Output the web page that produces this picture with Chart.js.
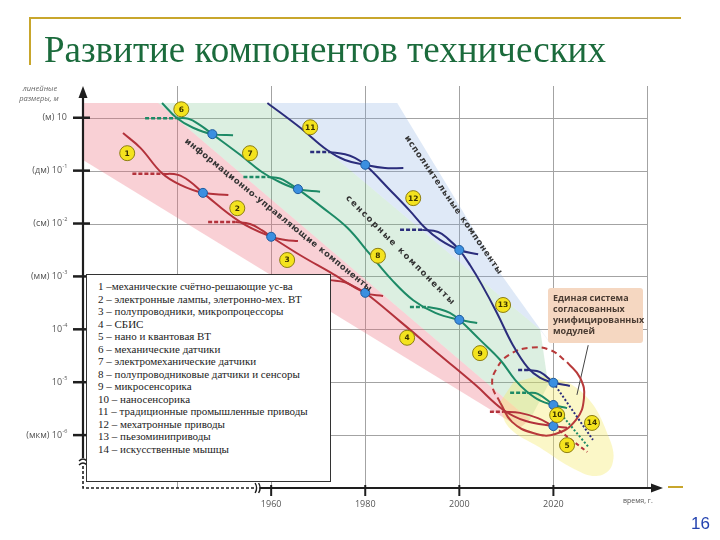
<!DOCTYPE html>
<html lang="ru">
<head>
<meta charset="UTF-8">
<title>Развитие компонентов технических</title>
<script src="https://cdn.jsdelivr.net/npm/chart.js@4.4.1/dist/chart.umd.min.js"></script>
<style>
  body { margin: 0; background: #fff; }
  #slide { position: relative; width: 720px; height: 540px; overflow: hidden; }
  #chart { position: absolute; left: 0; top: 0; }
  .rule { position: absolute; background: #c8a62c; }
  h1 { position: absolute; left: 44px; top: 31px; margin: 0; font: normal 37px/37px "Liberation Serif", serif; color: #1b6b3c; white-space: nowrap; }
  #legend { position: absolute; left: 86px; top: 274px; width: 245px; height: 208px; box-sizing: border-box; border: 1px solid #333; background: #fff; padding: 5px 0 0 11px; font: 11px/12.5px "Liberation Serif", serif; color: #222; }
  #callout { position: absolute; left: 548px; top: 288px; width: 95px; height: 55px; box-sizing: border-box; padding: 4px 0 0 5px; background: #f5d7c1; border-radius: 3px; font: bold 9px/11px "Open Sans", sans-serif; color: #4a3c33; }
  #page { position: absolute; left: 691px; top: 515px; font: 17px/17px "Liberation Sans", sans-serif; color: #2443b0; }
</style>
</head>
<body>
<div id="slide">
  <canvas id="chart" width="720" height="540"></canvas>
  <div class="rule" style="left:30px;top:17px;width:651px;height:2px"></div>
  <div class="rule" style="left:29px;top:17px;width:2px;height:48px"></div>
  <div class="rule" style="left:668px;top:486px;width:15px;height:2px"></div>
  <h1>Развитие компонентов технических</h1>
  <div id="legend"></div>
  <div id="callout">Единая система<br>согласованных<br>унифицированных<br>модулей</div>
  <div id="page">16</div>
</div>

<script>
// x = year, y = log10 of the linear size in metres (10^0 = 1 м)
const yTickExp = [0, -1, -2, -3, -4, -5, -6];
const yTickUnits = ['(м)', '(дм)', '(см)', '(мм)', '', '', '(мкм)'];
const xTickYears = [1960, 1980, 2000, 2020];
const gridYears = [1940, 1960, 1980, 2000, 2020, 2040];

const components = [
  '1 –механические счётно-решающие ус-ва',
  '2 – электронные лампы, элетронно-мех. ВТ',
  '3 – полупроводники, микропроцессоры',
  '4 – СБИС',
  '5 – нано и квантовая ВТ',
  '6 – механические датчики',
  '7 – электромеханические датчики',
  '8 – полупроводниковые датчики и сенсоры',
  '9 – микросенсорика',
  '10 – наносенсорика',
  '11 – традиционные промышленные приводы',
  '12 – мехатронные приводы',
  '13 – пьезоминиприводы',
  '14 – искусственные мышцы'
];

// shaded areas
const bandInfo = [[1920, 0.28], [1936.0, 0.28], [2015.0, -5.71], [2012.9, -5.86], [1920, -0.80]];
const bandSensor = [[1936.0, 0.28], [1959.8, 0.28], [2017.2, -4.01], [2018.9, -5.05], [2015.0, -5.71]];
const bandActuator = [[1959.8, 0.28], [1986.8, 0.28], [2008.7, -2.94], [2020.4, -4.39], [2017.2, -4.01]];
const bandFuture = [[2011.5, -5.00], [2019.0, -4.90], [2026.7, -5.24], [2032.0, -6.09], [2032.5, -6.56],
  [2029.5, -6.77], [2024.6, -6.65], [2017.2, -6.24], [2010.5, -5.85], [2008.5, -5.40]];

// info-management components 1-5 (red)
const r1 = [[1928.5, -0.29], [1932.2, -0.57], [1936.8, -1.05], [1940.7, -1.27], [1945.5, -1.42], [1950.9, -1.46]];
const r2start = [[1930.5, -1.06], [1936.8, -1.06]];
const r2 = [[1936.8, -1.06], [1940.2, -1.08], [1942.8, -1.21], [1945.5, -1.42], [1953.4, -1.97], [1960, -2.25], [1963.0, -2.31], [1965.7, -2.33]];
const r3start = [[1946.6, -1.97], [1952.4, -1.97]];
const r3 = [[1952.4, -1.97], [1955.5, -2.01], [1958.1, -2.13], [1960, -2.25], [1966.2, -2.60], [1972.5, -2.92], [1980, -3.31], [1983.8, -3.37]];
const r4start = [[1967.2, -3.07], [1972.5, -3.07]];
const r4 = [[1972.5, -3.07], [1975.7, -3.11], [1977.8, -3.20], [1980, -3.31], [1987.4, -3.85], [1995.9, -4.49],
  [2003.4, -5.05], [2009.3, -5.52], [2014.0, -5.73], [2020, -5.83], [2022.9, -5.86]];
const r5start = [[2006.5, -5.56], [2009.3, -5.56]];
const r5 = [[2009.3, -5.56], [2012.9, -5.58], [2016.7, -5.68], [2020, -5.83]];
const r5next = [[2020, -5.83], [2027.2, -6.32]];

// sensor components 6-10 (green)
const g6 = [[1936.8, 0.28], [1940.0, -0.01], [1943.4, -0.19], [1947.5, -0.31], [1951.9, -0.33]];
const g7start = [[1933.2, -0.01], [1939.6, -0.01]];
const g7 = [[1939.6, -0.01], [1942.4, -0.02], [1944.9, -0.14], [1947.5, -0.31], [1953.4, -0.70], [1958.1, -1.03],
  [1961.9, -1.22], [1965.7, -1.35], [1970.4, -1.40]];
const g8start = [[1954.1, -1.12], [1959.2, -1.12]];
const g8 = [[1959.2, -1.12], [1961.9, -1.15], [1964.0, -1.25], [1965.7, -1.35], [1970.8, -1.69], [1976.2, -2.08],
  [1981.0, -2.58], [1985.7, -3.07], [1990.2, -3.45], [1994.9, -3.69], [2000, -3.82], [2003.8, -3.88]];
const g9start = [[1989.5, -3.58], [1993.2, -3.58]];
const g9 = [[1993.2, -3.58], [1995.9, -3.62], [1998.0, -3.69], [2000, -3.82], [2004.4, -4.20], [2008.7, -4.58],
  [2011.9, -4.96], [2014.4, -5.18], [2017.2, -5.35], [2020, -5.43], [2022.9, -5.49]];
const g10start = [[2010.8, -5.20], [2014.4, -5.20]];
const g10 = [[2014.4, -5.20], [2016.7, -5.22], [2020, -5.43]];
const g10next = [[2020, -5.43], [2027.4, -6.22]];

// actuator components 11-14 (navy)
const n11 = [[1959.2, 0.28], [1966.2, -0.19], [1971.9, -0.61], [1975.7, -0.80], [1980, -0.89], [1984.2, -0.95], [1988.1, -0.95]];
const n12start = [[1968.3, -0.65], [1972.5, -0.65]];
const n12 = [[1972.5, -0.65], [1975.7, -0.69], [1977.8, -0.76], [1980, -0.89], [1985.3, -1.37], [1989.5, -1.76],
  [1992.7, -2.08], [1995.9, -2.31], [2000, -2.50], [2004.0, -2.58]];
const n13start = [[1987.4, -2.12], [1992.1, -2.12]];
const n13 = [[1992.1, -2.12], [1995.5, -2.16], [1997.6, -2.29], [2000, -2.50], [2002.3, -2.79], [2004.8, -3.16],
  [2008.0, -3.69], [2011.4, -4.30], [2014.6, -4.73], [2017.2, -4.92], [2020, -5.01], [2023.5, -5.07]];
const n14start = [[2012.5, -4.77], [2014.6, -4.77]];
const n14 = [[2014.6, -4.77], [2017.2, -4.81], [2020, -5.01]];
const n14next = [[2020, -5.01], [2028.4, -6.09]];

// crossing points
const dots = [[1945.5, -1.42], [1960, -2.25], [1980, -3.31], [2020, -5.83],
  [1947.5, -0.31], [1965.7, -1.35], [2000, -3.82], [2020, -5.43],
  [1980, -0.89], [2000, -2.50], [2020, -5.01]];

// numbered markers 1..14
const badgeAt = [[1929.4, -0.67], [1952.8, -1.71], [1963.4, -2.69], [1988.9, -4.16], [2022.9, -6.19],
  [1940.9, 0.16], [1955.5, -0.67], [1982.7, -2.61], [2004.4, -4.45], [2020.8, -5.62],
  [1968.3, -0.18], [1990.2, -1.52], [2009.3, -3.54], [2028.2, -5.77]];

// "unified system" ring and its callout pointer
const ringDashed = [[2008.7, -5.39], [2007.0, -5.05], [2008.0, -4.73], [2010.8, -4.47], [2015.0, -4.35], [2019.3, -4.39], [2022.9, -4.62]];
const ringSolid = [[2022.9, -4.62], [2025.7, -4.92], [2026.5, -5.30], [2024.8, -5.71], [2020.4, -5.98], [2015.7, -5.96], [2011.2, -5.75], [2008.7, -5.39]];
const calloutLine = [[2027.4, -4.30], [2025.0, -5.24]];

const bandLabelText = ['информационно-управляющие компоненты', 'сенсорные компоненты', 'исполнительные компоненты'];
const bandLabelAt = [[1961.5, -1.84], [1987.4, -2.50], [1998.7, -1.65]];

document.getElementById('legend').innerHTML = components.map(s => '<div>' + s + '</div>').join('');

const RED = '#b3323b', GREEN = '#1d8a66', NAVY = '#2b2d7c';
const pts = a => a.map(([x, y]) => ({ x, y }));

function curve(data, color, extra) {
  return Object.assign({
    data: pts(data), showLine: true, borderColor: color, borderWidth: 2,
    pointRadius: 0, tension: 0.4, fill: false, order: 3
  }, extra || {});
}
function startDash(data, color) {
  return curve(data, color, { borderDash: [4, 2], borderWidth: 2.5, tension: 0 });
}
function band(data, color, order, tension) {
  return {
    data: pts(data), showLine: true, borderColor: 'transparent', borderWidth: 0,
    backgroundColor: color, pointRadius: 0, fill: 'shape', tension: tension || 0, order: order
  };
}

const datasets = [
  band(bandInfo, 'rgba(235,110,125,0.32)', 13),
  band(bandSensor, 'rgba(120,195,140,0.26)', 12),
  band(bandActuator, 'rgba(130,170,225,0.26)', 11),
  band(bandFuture, 'rgba(245,232,100,0.36)', 10, 0.4),

  curve(r1, RED), startDash(r2start, RED), curve(r2, RED), startDash(r3start, RED), curve(r3, RED),
  startDash(r4start, RED), curve(r4, RED), startDash(r5start, RED), curve(r5, RED),
  curve(r5next, RED, { borderDash: [4, 3], tension: 0 }),

  curve(g6, GREEN), startDash(g7start, GREEN), curve(g7, GREEN), startDash(g8start, GREEN), curve(g8, GREEN),
  startDash(g9start, GREEN), curve(g9, GREEN), startDash(g10start, GREEN), curve(g10, GREEN),
  curve(g10next, GREEN, { borderDash: [2, 2], tension: 0 }),

  curve(n11, NAVY), startDash(n12start, NAVY), curve(n12, NAVY), startDash(n13start, NAVY), curve(n13, NAVY),
  startDash(n14start, NAVY), curve(n14, NAVY),
  curve(n14next, NAVY, { borderDash: [2, 2], tension: 0 }),

  curve(ringDashed, '#b83a3a', { borderDash: [6, 4], tension: 0.45, order: 4 }),
  curve(ringSolid, '#b83a3a', { tension: 0.45, order: 4 }),
  curve(calloutLine, '#444', { borderWidth: 1, tension: 0, order: 4 }),

  { data: pts(dots), pointRadius: 4.5, backgroundColor: '#3b8fe0', borderColor: '#1d5a9e', borderWidth: 1, order: 2 },
  { data: pts(badgeAt), pointRadius: 7.5, backgroundColor: '#f4e31e', borderColor: '#8c7d12', borderWidth: 1, order: 1 }
];

const frame = {
  id: 'frame',
  beforeDatasetsDraw(chart) {
    const { ctx, chartArea: a, scales: { x, y } } = chart;
    ctx.save();
    ctx.strokeStyle = '#a3a3a3';
    ctx.lineWidth = 1;
    const right = x.getPixelForValue(2040);
    gridYears.forEach(yr => {
      const px = Math.round(x.getPixelForValue(yr)) + 0.5;
      ctx.beginPath(); ctx.moveTo(px, a.top); ctx.lineTo(px, a.bottom); ctx.stroke();
    });
    yTickExp.forEach(e => {
      const py = Math.round(y.getPixelForValue(e)) + 0.5;
      ctx.beginPath(); ctx.moveTo(a.left, py); ctx.lineTo(right, py); ctx.stroke();
    });
    ctx.restore();
  },
  afterDatasetsDraw(chart) {
    const { ctx, chartArea: a, scales: { x, y } } = chart;
    const ax = a.left, ay = a.bottom;
    ctx.save();

    // band captions, letter by letter along the diagonal
    const capLen = [238, 150, 166], capAng = [39, 45, 55.5];
    ctx.font = 'bold 8.5px "DejaVu Sans", sans-serif';
    ctx.fillStyle = '#333';
    ctx.textBaseline = 'middle';
    ctx.textAlign = 'left';
    bandLabelText.forEach((t, i) => {
      const cx = x.getPixelForValue(bandLabelAt[i][0]), cy = y.getPixelForValue(bandLabelAt[i][1]);
      const chars = [...t];
      const widths = chars.map(c => ctx.measureText(c).width);
      const sum = widths.reduce((s, w) => s + w, 0);
      const gap = (capLen[i] - sum) / (chars.length - 1);
      ctx.save();
      ctx.translate(cx, cy);
      ctx.rotate(capAng[i] * Math.PI / 180);
      let px = -capLen[i] / 2;
      chars.forEach((c, k) => { ctx.fillText(c, px, 0); px += widths[k] + gap; });
      ctx.restore();
    });

    // numbers in the yellow markers
    ctx.font = 'bold 7.5px "DejaVu Sans", sans-serif';
    ctx.fillStyle = '#3a3200';
    ctx.textAlign = 'center';
    badgeAt.forEach((p, i) => {
      ctx.fillText(String(i + 1), x.getPixelForValue(p[0]), y.getPixelForValue(p[1]) + 0.5);
    });

    // axes
    ctx.strokeStyle = '#1e1e1e';
    ctx.fillStyle = '#1e1e1e';
    ctx.lineWidth = 2.2;
    ctx.beginPath(); ctx.moveTo(ax, a.top + 8); ctx.lineTo(ax, ay - 30); ctx.stroke();
    ctx.beginPath(); ctx.moveTo(x.getPixelForValue(1957.5), ay); ctx.lineTo(a.right - 16, ay); ctx.stroke();
    ctx.setLineDash([3, 2]);
    ctx.lineWidth = 1.6;
    ctx.beginPath(); ctx.moveTo(ax, ay - 22); ctx.lineTo(ax, ay); ctx.lineTo(x.getPixelForValue(1956.5), ay); ctx.stroke();
    ctx.setLineDash([]);
    // axis breaks
    ctx.lineWidth = 1.4;
    [[ax, ay - 28], [ax, ay - 24]].forEach(([bx, by]) => {
      ctx.beginPath(); ctx.moveTo(bx - 4, by + 1); ctx.quadraticCurveTo(bx, by - 3, bx + 4, by + 1); ctx.stroke();
    });
    const bx1 = x.getPixelForValue(1956.8);
    [bx1, bx1 + 3.5].forEach(bx => {
      ctx.beginPath(); ctx.moveTo(bx - 1, ay - 5); ctx.quadraticCurveTo(bx + 2, ay, bx - 1, ay + 5); ctx.stroke();
    });
    // arrows
    ctx.beginPath(); ctx.moveTo(ax, a.top); ctx.lineTo(ax - 4.5, a.top + 12); ctx.lineTo(ax + 4.5, a.top + 12); ctx.closePath(); ctx.fill();
    const tip = a.right - 8;
    ctx.beginPath(); ctx.moveTo(tip, ay); ctx.lineTo(tip - 12, ay - 4.5); ctx.lineTo(tip - 12, ay + 4.5); ctx.closePath(); ctx.fill();

    // y ticks + labels
    ctx.lineWidth = 2.5;
    yTickExp.forEach((e, i) => {
      const py = y.getPixelForValue(e);
      ctx.beginPath(); ctx.moveTo(ax - 10, py); ctx.lineTo(ax + 7, py); ctx.stroke();
      const base = (yTickUnits[i] ? yTickUnits[i] + ' ' : '') + '10';
      const sup = e === 0 ? '' : String(e);
      ctx.font = '9px "Open Sans", sans-serif';
      const wb = ctx.measureText(base).width;
      ctx.font = '5.5px "Open Sans", sans-serif';
      const ws = ctx.measureText(sup).width;
      const x0 = ax - 16 - wb - ws;
      ctx.fillStyle = '#555';
      ctx.textAlign = 'left';
      ctx.font = '9px "Open Sans", sans-serif';
      ctx.fillText(base, x0, py);
      ctx.font = '5.5px "Open Sans", sans-serif';
      ctx.fillText(sup, x0 + wb + 0.5, py - 4);
    });

    // x ticks + labels
    ctx.strokeStyle = '#1e1e1e';
    ctx.lineWidth = 2;
    ctx.fillStyle = '#555';
    ctx.textAlign = 'center';
    ctx.font = '9px "Open Sans", sans-serif';
    xTickYears.forEach(yr => {
      const px = x.getPixelForValue(yr);
      ctx.beginPath(); ctx.moveTo(px, ay - 3); ctx.lineTo(px, ay + 8); ctx.stroke();
      ctx.fillText(String(yr), px, ay + 16);
    });
    ctx.font = '7px "Open Sans", sans-serif';
    ctx.textAlign = 'left';
    ctx.fillText('время, г.', a.right - 48, ay + 13);

    // y axis title
    ctx.font = 'italic 7.5px "Open Sans", sans-serif';
    ctx.fillStyle = '#666';
    ctx.textAlign = 'center';
    ctx.fillText('линейные', ax - 43, a.top + 3);
    ctx.fillText('размеры, м', ax - 44, a.top + 13);
    ctx.restore();
  }
};

new Chart(document.getElementById('chart'), {
  type: 'scatter',
  data: { datasets },
  options: {
    responsive: false,
    animation: false,
    layout: { padding: { left: 83, right: 49, top: 86, bottom: 52 } },
    scales: {
      x: { type: 'linear', min: 1920, max: 2045, display: false },
      y: { type: 'linear', min: -7, max: 0.6, display: false }
    },
    plugins: { legend: { display: false }, tooltip: { enabled: false } }
  },
  plugins: [frame]
});
</script>
</body>
</html>
